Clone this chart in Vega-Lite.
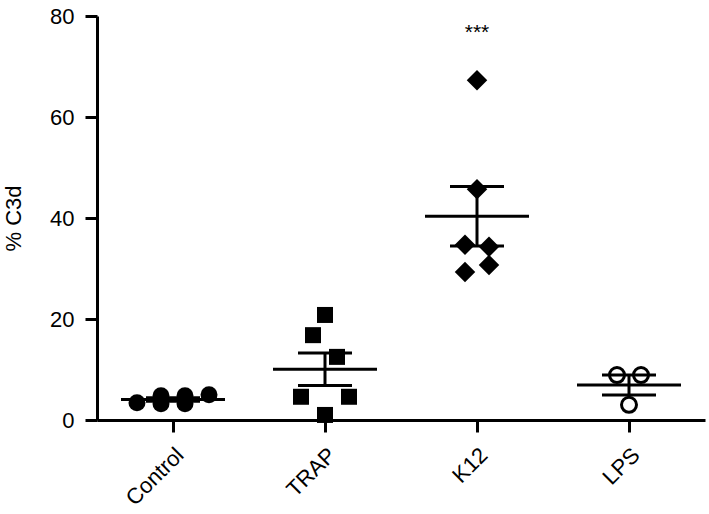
{
  "$schema": "https://vega.github.io/schema/vega-lite/v6.json",
  "width": 608,
  "height": 404,
  "autosize": {"type": "none"},
  "padding": {"left": 97, "top": 16, "right": 4, "bottom": 94},
  "background": "white",
  "config": {
    "view": {"stroke": null},
    "font": "Liberation Sans",
    "axis": {
      "domainColor": "black", "domainWidth": 3,
      "tickColor": "black", "tickWidth": 3, "tickSize": 12,
      "labelColor": "black", "labelFont": "Liberation Sans", "labelFontSize": 22,
      "titleFont": "Liberation Sans", "titleFontSize": 22, "titleFontWeight": "normal", "titleColor": "black",
      "grid": false
    }
  },
  "datasets": {
    "obs": [
      {"group": "Control", "value": 3.4, "slot": -3},
      {"group": "Control", "value": 4.8, "slot": -1},
      {"group": "Control", "value": 3.2, "slot": -1},
      {"group": "Control", "value": 4.8, "slot": 1},
      {"group": "Control", "value": 3.2, "slot": 1},
      {"group": "Control", "value": 5.0, "slot": 3},
      {"group": "TRAP", "value": 20.8, "slot": 0},
      {"group": "TRAP", "value": 16.8, "slot": -1},
      {"group": "TRAP", "value": 12.5, "slot": 1},
      {"group": "TRAP", "value": 4.6, "slot": -2},
      {"group": "TRAP", "value": 4.6, "slot": 2},
      {"group": "TRAP", "value": 1.0, "slot": 0},
      {"group": "K12", "value": 67.3, "slot": 0},
      {"group": "K12", "value": 45.7, "slot": 0},
      {"group": "K12", "value": 34.7, "slot": -1},
      {"group": "K12", "value": 34.3, "slot": 1},
      {"group": "K12", "value": 30.7, "slot": 1},
      {"group": "K12", "value": 29.3, "slot": -1},
      {"group": "LPS", "value": 8.9, "slot": -1},
      {"group": "LPS", "value": 8.9, "slot": 1},
      {"group": "LPS", "value": 3.0, "slot": 0}
    ],
    "note": [{"group": "K12", "label": "***", "value": 75.5}]
  },
  "encoding": {
    "x": {
      "field": "group", "type": "nominal",
      "sort": ["Control", "TRAP", "K12", "LPS"],
      "scale": {"domain": ["Control", "TRAP", "K12", "LPS"], "paddingInner": 0, "paddingOuter": 0},
      "axis": {"title": null, "labelAngle": -45, "labelPadding": 12}
    },
    "y": {
      "field": "value", "type": "quantitative",
      "scale": {"domain": [0, 80]},
      "title": "% C3d",
      "axis": {"values": [0, 20, 40, 60, 80], "labelPadding": 11, "titlePadding": 24}
    },
    "xOffset": {"field": "slot", "type": "ordinal", "scale": {"type": "point", "domain": [-6, -5, -4, -3, -2, -1, 0, 1, 2, 3, 4, 5, 6], "padding": 0.33}}
  },
  "layer": [
    {
      "data": {"name": "obs"},
      "transform": [{"filter": "datum.group === 'Control'"}],
      "mark": {"type": "point", "shape": "circle", "filled": true, "color": "black", "opacity": 1, "size": 289}
    },
    {
      "data": {"name": "obs"},
      "transform": [{"filter": "datum.group === 'TRAP'"}],
      "mark": {"type": "point", "shape": "square", "filled": true, "color": "black", "opacity": 1, "size": 256}
    },
    {
      "data": {"name": "obs"},
      "transform": [{"filter": "datum.group === 'K12'"}],
      "mark": {"type": "point", "shape": "diamond", "filled": true, "color": "black", "opacity": 1, "size": 420}
    },
    {
      "data": {"name": "obs"},
      "transform": [{"filter": "datum.group === 'LPS'"}],
      "mark": {"type": "point", "shape": "circle", "filled": false, "color": "black", "strokeWidth": 3, "size": 225, "opacity": 1}
    },
    {
      "data": {"name": "obs"},
      "mark": {"type": "tick", "size": 104, "thickness": 3, "color": "black", "opacity": 1},
      "encoding": {
        "xOffset": null,
        "y": {"aggregate": "mean", "field": "value", "type": "quantitative", "title": "% C3d"}
      }
    },
    {
      "data": {"name": "obs"},
      "mark": {
        "type": "errorbar", "extent": "stderr", "color": "black",
        "ticks": {"size": 54, "thickness": 3, "color": "black", "opacity": 1},
        "rule": {"strokeWidth": 3, "color": "black", "opacity": 1}
      },
      "encoding": {
        "xOffset": null,
        "y": {"field": "value", "type": "quantitative", "title": "% C3d"}
      }
    },
    {
      "data": {"name": "note"},
      "mark": {"type": "text", "fontSize": 21, "baseline": "alphabetic", "font": "Liberation Sans", "color": "black"},
      "encoding": {"xOffset": null, "text": {"field": "label"}}
    }
  ]
}
